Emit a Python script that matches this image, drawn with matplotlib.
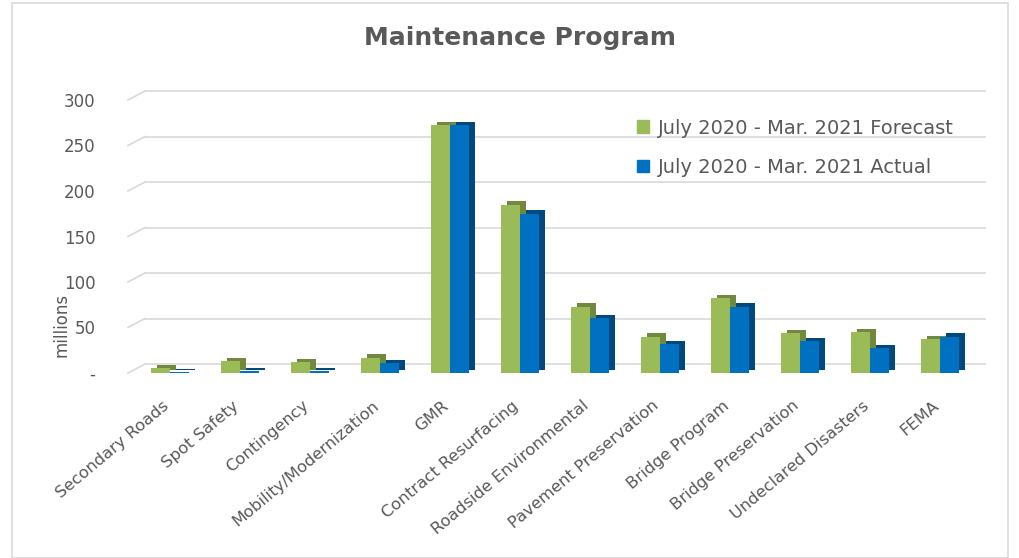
import matplotlib
matplotlib.use("Agg")
from matplotlib import pyplot as plt
from matplotlib import patheffects as pe
from matplotlib import transforms
from matplotlib.patches import Patch, Rectangle
import numpy as np

categories = ["Secondary Roads", "Spot Safety", "Contingency", "Mobility/Modernization",
              "GMR", "Contract Resurfacing", "Roadside Environmental", "Pavement Preservation",
              "Bridge Program", "Bridge Preservation", "Undeclared Disasters", "FEMA"]
forecast = [5, 13, 12, 17, 272, 185, 73, 40, 82, 44, 45, 37]
actual = [1, 2, 2, 11, 272, 175, 60, 32, 73, 35, 27, 40]
yticks = [0, 50, 100, 150, 200, 250, 300]
ytick_labels = ["-", "50", "100", "150", "200", "250", "300"]
series_names = ["July 2020 - Mar. 2021 Forecast", "July 2020 - Mar. 2021 Actual"]

green = "#9BBB59"
green_dark = "#71893F"
blue = "#0070C0"
blue_dark = "#00487D"
text_col = "#595959"
grid_col = "#D9D9D9"

W, H = 1020, 558
fig = plt.figure(figsize=(W / 100, H / 100), dpi=100)
fig.patches.append(Rectangle((12 / W, 0), 996 / W, 1 - 3 / H, transform=fig.transFigure,
                             fill=False, edgecolor=grid_col, linewidth=1.2))

ax = fig.add_axes([130 / W, 1 - 373 / H, 855 / W, 273 / H])
x = np.arange(len(categories))
bw = 0.27

def shade(dark):
    return [pe.SimplePatchShadow(offset=(4.3, 2.4), shadow_rgbFace=dark, alpha=1.0), pe.Normal()]

b1 = ax.bar(x - bw / 2, forecast, bw, color=green, zorder=3)
b2 = ax.bar(x + bw / 2, actual, bw, color=blue, zorder=3)
for r in b1:
    r.set_path_effects(shade(green_dark))
for r in b2:
    r.set_path_effects(shade(blue_dark))

ax.set_xlim(-0.57, 11.64)
ax.set_ylim(0, 300)

# back-wall gridlines, with a short diagonal on the left for the 3-D floor look
blend = transforms.blended_transform_factory(ax.transAxes, ax.transData)
back = transforms.offset_copy(blend, fig=fig, y=9, units="dots")
x0 = 15 / 855
for v in yticks:
    ax.plot([x0, 1], [v, v], transform=back, color=grid_col, lw=1.2, zorder=1, clip_on=False)
    p0 = blend.transform((-2 / 855, v))
    p1 = back.transform((x0, v))
    ax.plot([p0[0], p1[0]], [p0[1], p1[1]], transform=None, color=grid_col, lw=1.2,
            zorder=1, clip_on=False)

ax.set_yticks(yticks)
ax.set_yticklabels(ytick_labels)
for s in ax.spines.values():
    s.set_visible(False)
ax.tick_params(axis="y", length=0, pad=25, labelsize=12, labelcolor=text_col)
ax.set_xticks(x)
ax.set_xticklabels(categories, rotation=40, ha="right", rotation_mode="anchor",
                   fontsize=11.8, color=text_col)
ax.tick_params(axis="x", length=0, pad=18)
shift = transforms.ScaledTranslation(-8 / 100, 0, fig.dpi_scale_trans)
for lab in ax.get_xticklabels():
    lab.set_transform(lab.get_transform() + shift)

fig.text(62 / W, 1 - 325 / H, "millions", rotation=90, ha="center", va="center",
         fontsize=12, color=text_col)
fig.text(520 / W, 1 - 38 / H, "Maintenance Program", ha="center", va="center",
         fontsize=18, fontweight="bold", color=text_col)

handles = [Patch(color=green), Patch(color=blue)]
fig.legend(handles, series_names, loc="upper left", bbox_to_anchor=(620 / W, 1 - 101 / H),
           frameon=False, fontsize=14, labelcolor=text_col, handlelength=0.6,
           handleheight=0.6, handletextpad=0.45, labelspacing=1.05)

fig.savefig("out.png", dpi=100)
